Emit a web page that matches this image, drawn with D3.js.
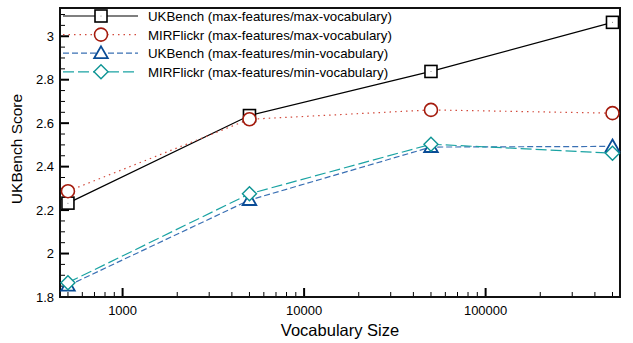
<!DOCTYPE html>
<html>
<head>
<meta charset="utf-8">
<script src="https://cdn.jsdelivr.net/npm/d3@7"></script>
<style>
body { margin: 0; background: #fff; }
text { font-family: "Liberation Sans", Arial, sans-serif; }
</style>
</head>
<body>
<div id="chart"></div>
<script>
var vocab = [500, 5000, 50000, 500000]
var ukbenchMaxMax = [2.232, 2.635, 2.838, 3.064]
var mirflickrMaxMax = [2.287, 2.618, 2.661, 2.646]
var ukbenchMaxMin = [1.852, 2.246, 2.49, 2.493]
var mirflickrMaxMin = [1.866, 2.275, 2.503, 2.462]
var xTicks = [1000, 10000, 100000]
var yTicks = [1.8, 2, 2.2, 2.4, 2.6, 2.8, 3]

var series = [
	{name: "UKBench (max-features/max-vocabulary)", values: ukbenchMaxMax, line: "#000", mark: "#000", dash: null, shape: "square"},
	{name: "MIRFlickr (max-features/max-vocabulary)", values: mirflickrMaxMax, line: "#d24a3c", mark: "#a41a0c", dash: "1.5,4", shape: "circle"},
	{name: "UKBench (max-features/min-vocabulary)", values: ukbenchMaxMin, line: "#3a70b4", mark: "#0a4c96", dash: "6,3", shape: "triangle"},
	{name: "MIRFlickr (max-features/min-vocabulary)", values: mirflickrMaxMin, line: "#1aa3a3", mark: "#0d9494", dash: "11,4", shape: "diamond"}
]

var width = 633, height = 343
var margin = {top: 8, right: 13, bottom: 46, left: 60}

var svg = d3.select("#chart").append("svg").attr("width", width).attr("height", height)

var x = d3.scaleLog().domain([452, 550000]).range([margin.left, width - margin.right])
var y = d3.scaleLinear().domain([1.8, 3.13]).range([height - margin.bottom, margin.top])

var g = svg.append("g")

// minor y ticks every 0.05
var yMinor = d3.range(1.85, 3.13, 0.05).filter(function(v){ return Math.abs(v*5 - Math.round(v*5)) > 0.01 })
g.selectAll(".ymin").data(yMinor).enter().append("line")
	.attr("x1", margin.left).attr("x2", margin.left + 5)
	.attr("y1", function(d){ return y(d) }).attr("y2", function(d){ return y(d) })
	.attr("stroke", "#000").attr("stroke-width", 1)
g.selectAll(".ymaj").data(yTicks).enter().append("line")
	.attr("x1", margin.left).attr("x2", margin.left + 9)
	.attr("y1", function(d){ return y(d) }).attr("y2", function(d){ return y(d) })
	.attr("stroke", "#000").attr("stroke-width", 2)
g.selectAll(".ylab").data(yTicks).enter().append("text")
	.attr("x", margin.left - 6).attr("y", function(d){ return y(d) + 4.5 })
	.attr("text-anchor", "end").attr("font-size", 13)
	.text(function(d){ return d })

// x ticks (log)
var xMinor = []
for (var dec = 100; dec <= 100000; dec *= 10) {
	for (var k = 2; k <= 9; k++) {
		var v = dec * k
		if (v >= 452 && v <= 550000) xMinor.push(v)
	}
}
g.selectAll(".xmin").data(xMinor).enter().append("line")
	.attr("x1", function(d){ return x(d) }).attr("x2", function(d){ return x(d) })
	.attr("y1", y(1.8)).attr("y2", y(1.8) - 5)
	.attr("stroke", "#000").attr("stroke-width", 1)
g.selectAll(".xmaj").data(xTicks).enter().append("line")
	.attr("x1", function(d){ return x(d) }).attr("x2", function(d){ return x(d) })
	.attr("y1", y(1.8)).attr("y2", y(1.8) - 9)
	.attr("stroke", "#000").attr("stroke-width", 2)
g.selectAll(".xlab").data(xTicks).enter().append("text")
	.attr("x", function(d){ return x(d) }).attr("y", y(1.8) + 18)
	.attr("text-anchor", "middle").attr("font-size", 13)
	.text(function(d){ return d })

// frame
svg.append("rect")
	.attr("x", margin.left).attr("y", margin.top)
	.attr("width", width - margin.right - margin.left)
	.attr("height", height - margin.bottom - margin.top)
	.attr("fill", "none").attr("stroke", "#111").attr("stroke-width", 2)

var line = d3.line()
	.x(function(d){ return x(d[0]) })
	.y(function(d){ return y(d[1]) })

function drawMarker(sel, shape, color, cx, cy) {
	if (shape == "square") {
		sel.append("rect").attr("x", cx - 6).attr("y", cy - 6).attr("width", 12).attr("height", 12)
			.attr("fill", "#fff").attr("stroke", color).attr("stroke-width", 1.6)
		sel.append("circle").attr("cx", cx).attr("cy", cy).attr("r", 0.5).attr("fill", "#666")
	} else if (shape == "circle") {
		sel.append("circle").attr("cx", cx).attr("cy", cy).attr("r", 6.5)
			.attr("fill", "#fff").attr("stroke", color).attr("stroke-width", 1.6)
	} else if (shape == "triangle") {
		sel.append("path").attr("d", d3.symbol().type(d3.symbolTriangle).size(80)())
			.attr("transform", "translate(" + cx + "," + (cy + 1) + ")")
			.attr("fill", "#fff").attr("stroke", color).attr("stroke-width", 1.8)
	} else {
		sel.append("path").attr("d", "M0,-7L7,0L0,7L-7,0Z")
			.attr("transform", "translate(" + cx + "," + cy + ")")
			.attr("fill", "#fff").attr("stroke", color).attr("stroke-width", 1.4)
	}
}

series.forEach(function(s){
	var pts = vocab.map(function(v, i){ return [v, s.values[i]] })
	svg.append("path").datum(pts).attr("d", line)
		.attr("fill", "none").attr("stroke", s.line).attr("stroke-width", 1.2)
		.attr("stroke-dasharray", s.dash)
})
series.forEach(function(s){
	var mg = svg.append("g")
	vocab.forEach(function(v, i){ drawMarker(mg, s.shape, s.mark, x(v), y(s.values[i])) })
})

// legend
var legend = svg.append("g")
series.forEach(function(s, i){
	var ly = 16 + i * 18.6
	legend.append("line").attr("x1", 63).attr("x2", 138).attr("y1", ly).attr("y2", ly)
		.attr("stroke", s.line).attr("stroke-width", 1.2).attr("stroke-dasharray", s.dash)
	drawMarker(legend, s.shape, s.mark, 101, ly)
	legend.append("text").attr("x", 148).attr("y", ly + 5).attr("font-size", 13.3).text(s.name)
})

// axis titles
svg.append("text").attr("x", (margin.left + width - margin.right) / 2).attr("y", 336)
	.attr("text-anchor", "middle").attr("font-size", 16.5).text("Vocabulary Size")
svg.append("text").attr("transform", "translate(22,149) rotate(-90)")
	.attr("text-anchor", "middle").attr("font-size", 15.5).text("UKBench Score")
</script>
</body>
</html>
